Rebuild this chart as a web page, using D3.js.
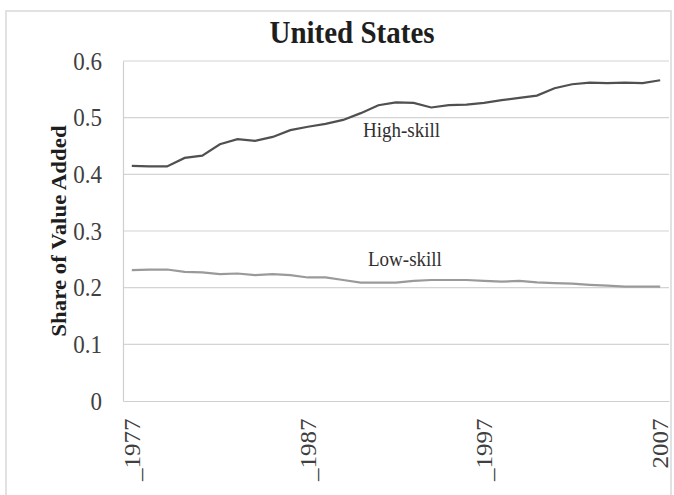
<!DOCTYPE html>
<meta charset="utf-8">
<style>
  html, body { margin: 0; padding: 0; background: #fff; }
  svg text { font-family: 'Liberation Serif', 'Times New Roman', serif; }
</style>
<script src="https://d3js.org/d3.v7.min.js"></script>
<div id="chart"></div>
<script>
// data
var years = d3.range(1977, 2008);
var highSkill = [0.415, 0.414, 0.414, 0.429, 0.433, 0.453, 0.462, 0.459, 0.466, 0.478,
                 0.484, 0.489, 0.496, 0.508, 0.522, 0.527, 0.526, 0.518, 0.522, 0.523,
                 0.526, 0.531, 0.535, 0.539, 0.552, 0.559, 0.562, 0.561, 0.562, 0.561, 0.566];
var lowSkill  = [0.231, 0.232, 0.232, 0.228, 0.227, 0.224, 0.225, 0.222, 0.224, 0.222,
                 0.218, 0.218, 0.2135, 0.209, 0.209, 0.209, 0.212, 0.2135, 0.2135, 0.2135,
                 0.212, 0.2105, 0.212, 0.2095, 0.208, 0.207, 0.205, 0.2035, 0.2017, 0.2017, 0.2017];
var yTicks = [0, 0.1, 0.2, 0.3, 0.4, 0.5, 0.6];
var xTicks = [1977, 1987, 1997, 2007];
var xTickText = ["_1977", "_1987", "_1997", "2007"];

var W = 674, H = 495;
var plotL = 123, plotR = 669, plotT = 61, plotB = 401;
var stretch = 1.09;   // the original text is a bit taller than it is wide

var svg = d3.select("#chart").append("svg")
  .attr("width", W).attr("height", H);

// outer frame
svg.append("path")
  .attr("d", "M6,495 L6,11 L671,11 L671,495")
  .attr("fill", "none").attr("stroke", "#d9d9d9").attr("stroke-width", 1.5);

var x = d3.scalePoint().domain(years).range([plotL, plotR]).padding(0.5);
var y = d3.scaleLinear().domain([0, 0.6]).range([plotB, plotT]);

// gridlines
svg.append("g").selectAll("line")
  .data(yTicks.filter(function(d){ return d > 0; }))
  .enter().append("line")
    .attr("x1", plotL).attr("x2", plotR)
    .attr("y1", function(d){ return y(d); })
    .attr("y2", function(d){ return y(d); })
    .attr("stroke", "#d4d4d4").attr("stroke-width", 1.2);

// y axis
var yAxis = svg.append("g")
  .attr("transform", "translate(" + plotL + ",0)")
  .call(d3.axisLeft(y).tickValues(yTicks).tickSize(0).tickPadding(21)
        .tickFormat(function(d){ return d === 0 ? "0" : d.toFixed(1); }));
yAxis.select(".domain").attr("stroke", "#cfcfcf").attr("stroke-width", 1.2);
yAxis.selectAll("text")
  .attr("font-size", 23).attr("fill", "#404040")
  .attr("font-family", "Liberation Serif")
  .attr("transform", "scale(1," + stretch + ")");

// x axis
var xAxis = svg.append("g")
  .attr("transform", "translate(0," + plotB + ")")
  .call(d3.axisBottom(x).tickValues(xTicks).tickSize(0)
        .tickFormat(function(d, i){ return xTickText[i]; }));
xAxis.select(".domain").attr("stroke", "#cfcfcf").attr("stroke-width", 1.2);
xAxis.selectAll("text")
  .attr("font-size", 23).attr("fill", "#404040")
  .attr("font-family", "Liberation Serif")
  .attr("text-anchor", "end")
  .attr("x", -16).attr("y", 0).attr("dy", "0.33em")
  .attr("transform", "rotate(-90) scale(" + stretch + ",1)");

// lines
var line = d3.line()
  .x(function(d, i){ return x(years[i]); })
  .y(function(d){ return y(d); });

svg.append("path").datum(lowSkill)
  .attr("d", line).attr("fill", "none")
  .attr("stroke", "#9a9a9a").attr("stroke-width", 2.2);

svg.append("path").datum(highSkill)
  .attr("d", line).attr("fill", "none")
  .attr("stroke", "#505050").attr("stroke-width", 2.2);

// series labels
svg.append("text")
  .attr("transform", "translate(363,136.5) scale(1," + stretch + ")")
  .attr("font-size", 19).attr("fill", "#303030")
  .text("High-skill");
svg.append("text")
  .attr("transform", "translate(368,265.5) scale(1," + stretch + ")")
  .attr("font-size", 19).attr("fill", "#303030")
  .text("Low-skill");

// title
svg.append("text")
  .attr("transform", "translate(352,42.7) scale(1," + stretch + ")")
  .attr("text-anchor", "middle")
  .attr("font-size", 29).attr("font-weight", "bold").attr("fill", "#1e1e1e")
  .text("United States");

// y axis title
svg.append("text")
  .attr("transform", "translate(66,231) rotate(-90) scale(" + stretch + ",1)")
  .attr("text-anchor", "middle")
  .attr("font-size", 21).attr("font-weight", "bold").attr("fill", "#1e1e1e")
  .text("Share of Value Added");
</script>
